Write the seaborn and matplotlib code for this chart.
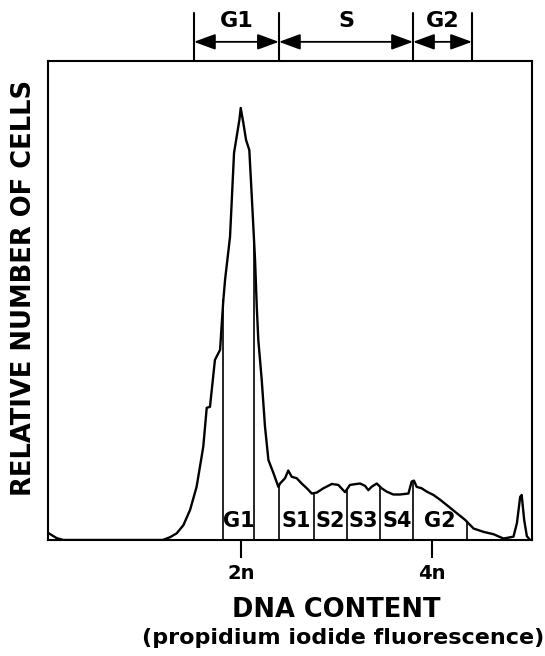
import numpy as np
import pandas as pd
import matplotlib
matplotlib.use("Agg")
import matplotlib.pyplot as plt
import seaborn as sns

# ---- data ----
dna_channel = [0, 4.5, 8, 30, 60, 64, 67.4, 70.9, 74.4, 77.8,
               81.3, 83.1, 84.8, 87.4, 90.1, 91, 91.8, 92.7, 95.3, 97.4,
               99.1, 100.2, 100.9, 102.3, 103.7, 105.4, 106.6, 108.4, 109.3, 110.1,
               111.9, 113.6, 115.4, 118, 120.6, 121.5, 124.1, 125.8, 127.6, 130.2,
               132.8, 135.5, 138.1, 140.7, 144.2, 148.6, 152, 155.5, 158.1, 163.4,
               166, 167.7, 169.4, 172.1, 174.7, 177.3, 180.8, 184.3, 188.7, 190.4,
               191.6, 193, 195.6, 198.3, 201.8, 205.3, 209.7, 214, 218.4, 222.8,
               228, 233.3, 238.5, 243.7, 245.5, 247.2, 248, 249.3, 250.7, 252.4]
cell_count = [1.5, 0.4, 0, 0, 0, 0.6, 1.4, 3.1, 6.3, 11.1,
              19.5, 27.6, 27.8, 37.6, 39.7, 45.3, 50.1, 54.3, 63.3, 80.8,
              85, 87.7, 90.2, 87, 83.5, 81.4, 72.4, 58.5, 48.7, 41.8,
              33.4, 23.7, 16.7, 14, 11.1, 11.8, 12.9, 14.5, 13.2, 12.9,
              11.8, 10.8, 9.7, 9.9, 10.8, 11.7, 11.5, 10, 11.5, 11.8,
              11.3, 10.4, 11.1, 11.8, 10.8, 10.1, 9.5, 9.5, 9.7, 12.2,
              12.4, 11.1, 10.8, 10.1, 9.4, 8.4, 7, 5.6, 4.2, 2.4,
              1.7, 1.2, 0.3, 0.7, 3.5, 9, 9.4, 4.2, 0.8, 0]

gate_edges = [91.8, 107.9, 121, 139.3, 156.4, 173.9, 191.3, 219.3]
gate_labels = ["G1", "", "S1", "S2", "S3", "S4", "G2"]

phase_edges = [76.4, 120.9, 191.1, 222.0]
phase_labels = ["G1", "S", "G2"]

tick_pos = [101, 201]
tick_labels = ["2n", "4n"]

# ---- drawing ----
sns.set_style("white")
plt.rcParams['font.family'] = ['DejaVu Sans']
plt.rcParams['text.color'] = 'black'
plt.rcParams['axes.labelcolor'] = 'black'
plt.rcParams['xtick.color'] = 'black'

fig = plt.figure(figsize=(5.45, 6.56), dpi=100)
ax = fig.add_axes([48/545, 1-540/656, 484/545, 479/656])

df = pd.DataFrame({"ch": dna_channel, "n": cell_count})
sns.lineplot(data=df, x="ch", y="n", ax=ax, color="black", linewidth=1.7,
             estimator=None, sort=False)

ax.set_xlim(0, 253.4)
ax.set_ylim(0, 100)

# gate lines up to the curve
for g in gate_edges:
    top = np.interp(g, dna_channel, cell_count)
    ax.plot([g, g], [0, top], color="black", lw=1.2)

# gate labels
lab_kw = dict(ha="center", va="center", fontsize=15, fontweight="bold",
              color="black")
for i, lab in enumerate(gate_labels):
    if lab:
        ax.text((gate_edges[i] + gate_edges[i+1]) / 2, 4.0, lab, **lab_kw)

# top phase brackets
y_bar_top, y_arrow, y_lab = 110.0, 104.0, 108.3
for e in phase_edges:
    ax.plot([e, e], [100, y_bar_top], color="black", lw=1.5, clip_on=False)
for i, lab in enumerate(phase_labels):
    a, b = phase_edges[i], phase_edges[i+1]
    ax.annotate("", xy=(b, y_arrow), xytext=(a, y_arrow),
                arrowprops=dict(arrowstyle="<|-|>,head_length=0.6,head_width=0.22",
                                color="black", lw=1.3, mutation_scale=22,
                                shrinkA=0, shrinkB=0),
                annotation_clip=False)
    ax.text((a + b) / 2, y_lab, lab, ha="center", va="center",
            fontsize=16, fontweight="bold", clip_on=False, color="black")

# axes styling
for s in ax.spines.values():
    s.set_visible(True)
    s.set_color("black")
    s.set_linewidth(1.5)
ax.set_yticks([])
ax.set_xticks(tick_pos)
ax.set_xticklabels(tick_labels, fontsize=14, fontweight="bold")
ax.tick_params(axis="x", direction="out", length=13, width=1.5, pad=4.5,
               bottom=True, colors="black")

ax.set_ylabel("RELATIVE NUMBER OF CELLS", fontsize=18.5, fontweight="bold",
              va="center")
ax.yaxis.set_label_coords(-(48-24)/484, 0.526)
ax.set_xlabel("DNA CONTENT", fontsize=18.5, fontweight="bold", va="center")
ax.xaxis.set_label_coords((336-48)/484, -(610-540)/479)
ax.text((343-48)/484, -(638-540)/479, "(propidium iodide fluorescence)",
        transform=ax.transAxes, ha="center", va="center",
        fontsize=16, fontweight="bold", color="black")

fig.savefig("out.png", dpi=100)
